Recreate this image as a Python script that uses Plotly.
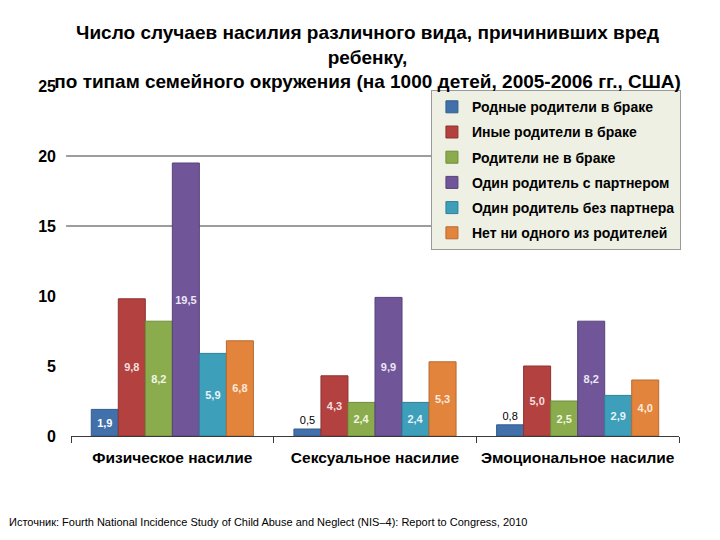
import plotly.graph_objects as go

categories = ["Физическое насилие", "Сексуальное насилие", "Эмоциональное насилие"]
series_names = [
    "Родные родители в браке",
    "Иные родители в браке",
    "Родители не в браке",
    "Один родитель с партнером",
    "Один родитель без партнера",
    "Нет ни одного из родителей",
]
values_married_bio = [1.9, 0.5, 0.8]
values_married_other = [9.8, 4.3, 5.0]
values_unmarried = [8.2, 2.4, 2.5]
values_single_partner = [19.5, 9.9, 8.2]
values_single_no_partner = [5.9, 2.4, 2.9]
values_no_parent = [6.8, 5.3, 4.0]
series_values = [values_married_bio, values_married_other, values_unmarried,
                 values_single_partner, values_single_no_partner, values_no_parent]
y_tick_vals = [0, 5, 10, 15, 20, 25]
grid_vals = [15, 20]

colors = ["#4170aa", "#b2413f", "#8aac4c", "#705698", "#3d9fba", "#e3843d"]
edge = ["#345d8c", "#8e3331", "#6f8b3c", "#574379", "#307f95", "#b8692f"]
label_colors = ["#ffffff", "#f6dede", "#f0f6e2", "#ece6f5", "#e6f4f8", "#fbeadc"]

title_text = ("Число случаев насилия различного вида, причинивших вред<br>ребенку,<br>"
              "по типам семейного окружения (на 1000 детей, 2005-2006 гг., США)")
source_text = "Источник: Fourth National Incidence Study of Child Abuse and Neglect (NIS–4): Report to Congress, 2010"

fig = go.Figure()
for i, (name, vals) in enumerate(zip(series_names, series_values)):
    texts = [f"{v:.1f}".replace(".", ",") for v in vals]
    positions = ["outside" if v < 1 else "inside" for v in vals]
    tcolors = ["#000000" if v < 1 else label_colors[i] for v in vals]
    tweights = ["normal" if v < 1 else "bold" for v in vals]
    fig.add_trace(go.Bar(
        x=categories, y=vals, name=name,
        marker=dict(color=colors[i], line=dict(color=edge[i], width=1)),
        text=texts, textposition=positions, textangle=0,
        insidetextanchor="middle",
        textfont=dict(family="Liberation Sans", size=11, color=tcolors, weight=tweights),
        cliponaxis=False,
        legendgroup=f"g{i}",
    ))

for g in grid_vals:
    fig.add_shape(type="line", xref="paper", yref="y", x0=-0.008, x1=1, y0=g, y1=g,
                  line=dict(color="#3a3a3a", width=1), layer="below")

fig.update_layout(
    width=712, height=532,
    paper_bgcolor="white", plot_bgcolor="white",
    margin=dict(l=63, r=41, t=78, b=104),
    barmode="group", bargap=0.2, bargroupgap=0,
    uniformtext=dict(minsize=11, mode="show"),
    font=dict(family="Liberation Sans", color="#000000"),
    title=dict(text=title_text, x=0.505, xanchor="center", y=0.942, yanchor="top",
               font=dict(family="Liberation Sans", size=19, color="#000000", weight="bold")),
    legend=dict(x=0.592, y=0.988, xanchor="left", yanchor="top",
                bgcolor="#eef0e4", bordercolor="#9a9a9a", borderwidth=1,
                font=dict(family="Liberation Sans", size=14, color="#000000", weight="bold"),
                tracegroupgap=4, traceorder="grouped", itemwidth=30),
    showlegend=True,
    annotations=[dict(text=source_text, xref="paper", yref="paper", x=-0.105, y=-0.246,
                      xanchor="left", yanchor="middle", showarrow=False,
                      font=dict(family="Liberation Sans", size=11, color="#000000"))],
)
fig.update_xaxes(showline=True, linecolor="#3a3a3a", linewidth=1, ticks="outside",
                 tickson="boundaries", ticklen=6, tickcolor="#3a3a3a", showgrid=False,
                 tickangle=0, automargin=False, ticklabelstandoff=7,
                 tickfont=dict(family="Liberation Sans", size=15.5, color="#000000", weight="bold"))
fig.update_yaxes(range=[0, 25], tickvals=y_tick_vals, showgrid=False, zeroline=False,
                 showline=False, ticks="", ticklabelstandoff=14, automargin=False,
                 tickfont=dict(family="Liberation Sans", size=16, color="#000000", weight="bold"))

fig.write_html("out.html")
